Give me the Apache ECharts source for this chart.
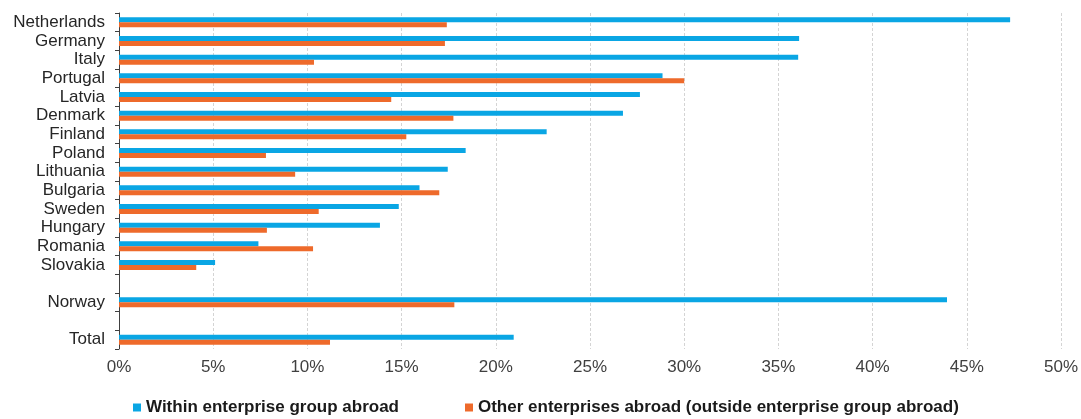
<!DOCTYPE html>
<html>
<head>
<meta charset="utf-8">
<script src="https://cdn.jsdelivr.net/npm/echarts@6/dist/echarts.min.js"></script>
<style>html,body{margin:0;padding:0;background:#fff}#c{width:1081px;height:419px}</style>
</head>
<body>
<div id="c"></div>
<script>
const categories = ['Netherlands','Germany','Italy','Portugal','Latvia','Denmark','Finland','Poland','Lithuania','Bulgaria','Sweden','Hungary','Romania','Slovakia',' ','Norway','  ','Total'];
const withinGroup = [47.3,36.1,36.05,28.85,27.65,26.75,22.7,18.4,17.45,15.95,14.85,13.85,7.4,5.1,null,43.95,null,20.95];
const otherEnterprises = [17.4,17.3,10.35,30.0,14.45,17.75,15.25,7.8,9.35,17.0,10.6,7.85,10.3,4.1,null,17.8,null,11.2];
const seriesNames = ['Within enterprise group abroad','Other enterprises abroad (outside enterprise group abroad)'];
const xTicks = {min:0, max:50, interval:5};

const chart = echarts.init(document.getElementById('c'), null, {renderer:'canvas'});
const font = 'Liberation Sans, Arial, sans-serif';
chart.setOption({
  animation:false,
  textStyle:{fontFamily:font},
  grid:{left:119, right:19, top:13, bottom:70, containLabel:false},
  legend:{
    top:394, left:128, icon:'rect', itemWidth:8, itemHeight:8, itemGap:66,
    textStyle:{fontFamily:font, fontSize:17, fontWeight:'bold', color:'#1a1a1a'},
    data:seriesNames
  },
  xAxis:{
    type:'value', min:xTicks.min, max:xTicks.max, interval:xTicks.interval,
    axisLine:{show:false}, axisTick:{show:false},
    axisLabel:{formatter:v=>v+'%', fontSize:17, color:'#404040', margin:10, fontFamily:font},
    splitLine:{show:true, lineStyle:{color:'#d4d4d4', type:[3,2], width:1}}
  },
  yAxis:{
    type:'category', inverse:true, data:categories,
    axisLine:{show:true, lineStyle:{color:'#404040', width:1}},
    axisTick:{show:true, inside:false, length:4, interval:0, lineStyle:{color:'#404040'}},
    axisLabel:{fontSize:17, color:'#262626', margin:14, interval:0, fontFamily:font}
  },
  series:[
    {name:seriesNames[0], type:'bar', data:withinGroup, barWidth:5, barGap:'0%', itemStyle:{color:'#0aa6e4'}},
    {name:seriesNames[1], type:'bar', data:otherEnterprises, barWidth:5, barGap:'0%', itemStyle:{color:'#ee6a2b'}}
  ]
});
</script>
</body>
</html>
